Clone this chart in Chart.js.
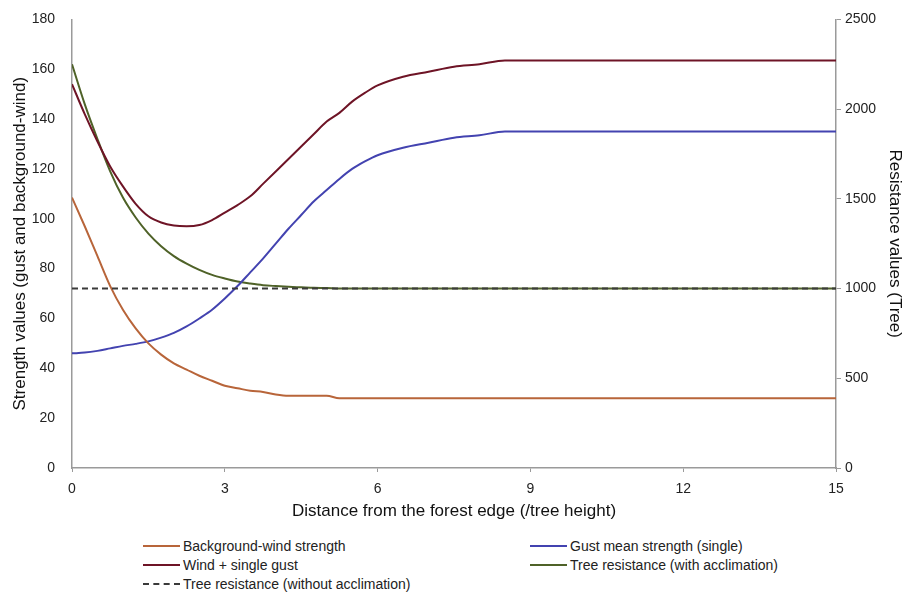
<!DOCTYPE html>
<html lang="en">
<head>
    <meta charset="UTF-8">
    <title>Strength and resistance vs distance from forest edge</title>
    <script src="https://cdn.jsdelivr.net/npm/chart.js"></script>
    <style>
        body { margin: 0; background: #fff; font-family: "Liberation Sans", Arial, sans-serif; overflow: hidden; }
        #wrap { position: relative; width: 905px; height: 596px; overflow: hidden; }
        #chartBox { position: absolute; left: 0; top: -6px; width: 905px; height: 531px; }
        .leg { position: absolute; font-size: 14px; color: #222; display: flex; align-items: center; white-space: nowrap; }
        .leg span.sw { display: inline-block; width: 37px; height: 0; border-top: 2px solid; margin-right: 3px; }
    </style>
</head>
<body>
<div id="wrap">
    <div id="chartBox"><canvas id="chart"></canvas></div>
    <div id="legend"></div>
</div>
<script>
    // distance from the forest edge (tree heights)
    const distance = [0, 0.25, 0.5, 0.75, 1, 1.25, 1.5, 1.75, 2, 2.25, 2.5, 2.75, 3, 3.25, 3.5, 3.75,
        4, 4.25, 4.5, 4.75, 5, 5.25, 5.5, 5.75, 6, 6.5, 7, 7.5, 8, 8.5, 9, 10, 11, 12, 13, 14, 15];

    // left axis
    const backgroundWind = [108.5, 97, 85, 73, 63.5, 56, 50, 45.5, 42, 39.5, 37, 35, 33, 32, 31, 30.5,
        29.5, 29, 29, 29, 29, 28, 28, 28, 28, 28, 28, 28, 28, 28, 28, 28, 28, 28, 28, 28, 28];
    const gustMean = [46, 46.3, 47, 48, 49, 49.8, 50.8, 52.3, 54.2, 56.8, 60, 63.5, 68, 73, 78.5, 84,
        90, 96, 101.5, 107, 111.5, 116, 120, 123, 125.5, 128.5, 130.5, 132.5, 133.5, 135, 135, 135, 135, 135, 135, 135, 135];
    const windGust = [154, 142, 131, 121, 113, 106, 101, 98.5, 97.3, 97, 97.5, 99.5, 102.5, 105.5, 109, 114,
        119, 124, 129, 134, 139, 142.5, 147, 150.5, 153.5, 157, 159, 161, 162, 163.5, 163.5, 163.5, 163.5, 163.5, 163.5, 163.5, 163.5];

    // right axis
    const treeAccl = [2250, 2028, 1833, 1653, 1507, 1396, 1306, 1236, 1181, 1139, 1104, 1076, 1056, 1039, 1028, 1019,
        1014, 1010, 1007, 1004, 1003, 1000, 1000, 1000, 1000, 1000, 1000, 1000, 1000, 1000, 1000, 1000, 1000, 1000, 1000, 1000, 1000];
    const treeNoAccl = [1000, 1000, 1000, 1000, 1000, 1000, 1000, 1000, 1000, 1000, 1000, 1000, 1000, 1000, 1000, 1000,
        1000, 1000, 1000, 1000, 1000, 1000, 1000, 1000, 1000, 1000, 1000, 1000, 1000, 1000, 1000, 1000, 1000, 1000, 1000, 1000, 1000];

    const xTicks = [0, 3, 6, 9, 12, 15];

    const pts = arr => arr.map((v, i) => ({ x: distance[i], y: v }));

    const series = [
        { label: 'Tree resistance (without acclimation)', data: treeNoAccl, color: '#3a3a3a', axis: 'y2', dash: [6, 4] },
        { label: 'Background-wind strength', data: backgroundWind, color: '#b8653a', axis: 'y' },
        { label: 'Gust mean strength (single)', data: gustMean, color: '#4343b0', axis: 'y' },
        { label: 'Wind + single gust', data: windGust, color: '#6e1426', axis: 'y' },
        { label: 'Tree resistance (with acclimation)', data: treeAccl, color: '#4f6228', axis: 'y2' }
    ];

    const tickFont = { family: '"Liberation Sans", Arial, sans-serif', size: 14 };
    const titleFont = { family: '"Liberation Sans", Arial, sans-serif', size: 17 };

    new Chart(document.getElementById('chart'), {
        type: 'line',
        data: {
            datasets: series.map(s => ({
                label: s.label,
                data: pts(s.data),
                borderColor: s.color,
                borderWidth: 2,
                borderDash: s.dash || [],
                pointRadius: 0,
                cubicInterpolationMode: 'monotone',
                yAxisID: s.axis,
                fill: false
            }))
        },
        options: {
            responsive: true,
            maintainAspectRatio: false,
            animation: false,
            layout: { padding: { top: 12, left: 0, right: 0, bottom: 0 } },
            plugins: { legend: { display: false }, tooltip: { enabled: false } },
            scales: {
                x: {
                    type: 'linear', min: 0, max: 15,
                    afterBuildTicks: ax => { ax.ticks = xTicks.map(v => ({ value: v })); },
                    afterFit: ax => { ax.height = 57; },
                    grid: { drawOnChartArea: false, tickLength: 4, color: '#9a9a9a' },
                    border: { color: '#9a9a9a', width: 1.5 },
                    ticks: { font: tickFont, color: '#222', padding: 9, maxRotation: 0 },
                    title: { display: true, text: 'Distance from the forest edge (/tree height)', font: titleFont, color: '#111', padding: { top: 4, bottom: 3 } }
                },
                y: {
                    position: 'left', min: 0, max: 180,
                    ticks: { stepSize: 20, font: tickFont, color: '#222', padding: 17 },
                    afterFit: ax => { ax.width = 72; },
                    grid: { drawOnChartArea: false, tickLength: 0, color: '#9a9a9a' },
                    border: { color: '#9a9a9a', width: 1.5 },
                    title: { display: true, text: 'Strength values (gust and background-wind)', font: titleFont, color: '#111', padding: { top: 10, bottom: 0 } }
                },
                y2: {
                    position: 'right', min: 0, max: 2500,
                    ticks: { stepSize: 500, font: tickFont, color: '#222', padding: 4, callback: v => String(v) },
                    afterFit: ax => { ax.width = 69; },
                    grid: { drawOnChartArea: false, tickLength: 5, color: '#9a9a9a' },
                    border: { color: '#9a9a9a', width: 1.5 },
                    title: { display: true, text: 'Resistance values (Tree)', font: titleFont, color: '#111', padding: { top: 0, bottom: 0 } }
                }
            }
        }
    });

    // legend laid out like the original: two columns, three rows
    const legendPlaces = {
        'Background-wind strength': [143, 547],
        'Gust mean strength (single)': [530, 547],
        'Wind + single gust': [143, 566],
        'Tree resistance (with acclimation)': [530, 566],
        'Tree resistance (without acclimation)': [143, 585]
    };
    const legend = document.getElementById('legend');
    series.forEach(s => {
        const p = legendPlaces[s.label];
        const d = document.createElement('div');
        d.className = 'leg';
        d.style.left = p[0] + 'px';
        d.style.top = (p[1] - 9) + 'px';
        const sw = document.createElement('span');
        sw.className = 'sw';
        sw.style.borderTopColor = s.color;
        if (s.dash) sw.style.borderTopStyle = 'dashed';
        d.appendChild(sw);
        d.appendChild(document.createTextNode(s.label));
        legend.appendChild(d);
    });
</script>
</body>
</html>
